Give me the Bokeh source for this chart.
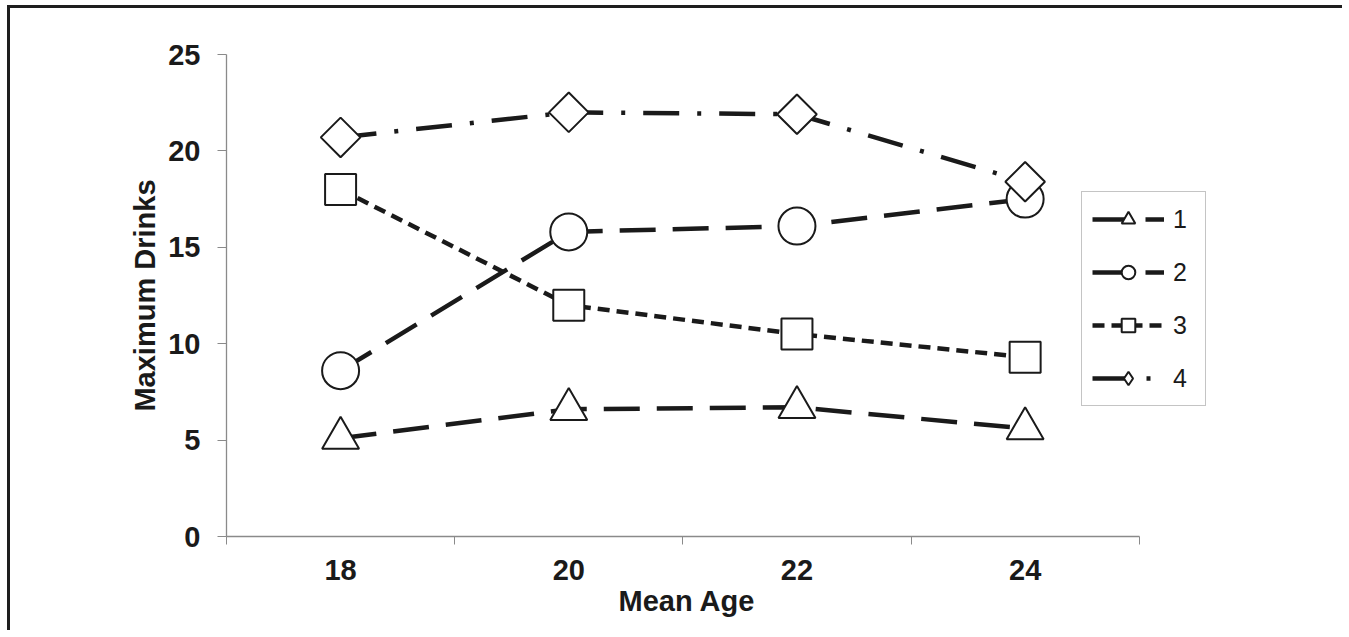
import numpy as np
from bokeh.plotting import figure
from bokeh.models import Range1d, FixedTicker, Legend, LegendItem, Title
from bokeh.embed import file_html
from bokeh.resources import INLINE

# ---- data ----
ages = [18, 20, 22, 24]
series_names = ["1", "2", "3", "4"]
s1 = [5.1, 6.6, 6.7, 5.6]
s2 = [8.6, 15.8, 16.1, 17.5]
s3 = [18.0, 12.0, 10.5, 9.3]
s4 = [20.7, 22.0, 21.9, 18.4]
y_ticks = [0, 5, 10, 15, 20, 25]
x_tick_labels = ["18", "20", "22", "24"]
x_bounds = [17, 19, 21, 23, 25]

FONT = "Liberation Sans"
INK = "#1a1a1a"
GRAY = "#8a8a8a"

p = figure(width=1335, height=625, output_backend="svg", toolbar_location=None,
           x_range=Range1d(17, 25.8), y_range=Range1d(0, 25),
           min_border_left=216, min_border_top=46, min_border_bottom=97,
           min_border_right=115)
p.styles = {"border-top": "3px solid #1e1e1e", "border-left": "3px solid #1e1e1e",
            "margin-top": "5px", "margin-left": "7px"}
p.outline_line_color = None
p.xgrid.grid_line_color = None
p.ygrid.grid_line_color = None

# x axis
xa = p.xaxis[0]
xa.bounds = (17, 25)
xa.ticker = FixedTicker(ticks=ages, minor_ticks=x_bounds)
xa.major_label_overrides = {a: l for a, l in zip(ages, x_tick_labels)}
xa.major_tick_out = 0
xa.major_tick_in = 0
xa.minor_tick_out = 8
xa.minor_tick_in = 0
xa.minor_tick_line_color = GRAY
xa.axis_line_color = GRAY
xa.axis_line_width = 1.3
xa.major_label_text_font = FONT
xa.major_label_text_font_style = "bold"
xa.major_label_text_font_size = "29px"
xa.major_label_text_color = INK
xa.major_label_standoff = 15

xtitle = Title(text="Mean Age", align="left", offset=392, standoff=0,
               text_font=FONT, text_font_style="bold", text_font_size="29px",
               text_color=INK)
p.add_layout(xtitle, "below")

# y axis
ya = p.yaxis[0]
ya.ticker = FixedTicker(ticks=y_ticks, minor_ticks=[])
ya.major_tick_out = 9
ya.major_tick_in = 0
ya.major_tick_line_color = GRAY
ya.minor_tick_line_color = None
ya.axis_line_color = GRAY
ya.axis_line_width = 1.3
ya.major_label_text_font = FONT
ya.major_label_text_font_style = "bold"
ya.major_label_text_font_size = "29px"
ya.major_label_text_color = INK
ya.major_label_standoff = 17
ya.axis_label = "Maximum Drinks"
ya.axis_label_text_font = FONT
ya.axis_label_text_font_style = "bold"
ya.axis_label_text_font_size = "29px"
ya.axis_label_text_color = INK
ya.axis_label_standoff = 4

series = [
    (s1, "36 17", "triangle", 37, 0.0, "triangle"),
    (s2, "36 17", "circle", 37, 0.0, "circle"),
    (s3, "12 7", "square", 31, 0.0, "square"),
    (s4, "36 18 4 18", "square", 28, np.pi / 4, "diamond"),
]

items = []
for name, (vals, dash, marker, size, ang, leg_marker) in zip(series_names, series):
    ln = p.line(ages, vals, line_color=INK, line_width=4.5, line_dash=dash)
    sc = p.scatter(ages, vals, marker=marker, size=size, angle=ang,
                   fill_color="white", line_color=INK, line_width=2)
    if leg_marker != marker:
        lg = p.scatter(ages, vals, marker=leg_marker, size=size,
                       fill_color="white", line_color=INK, line_width=2,
                       visible=False)
        items.append(LegendItem(label=name, renderers=[ln, lg]))
    else:
        items.append(LegendItem(label=name, renderers=[ln, sc]))

legend = Legend(items=items, location=(855, 130),
                label_text_font=FONT, label_text_font_size="25px",
                label_text_color=INK,
                glyph_width=72, glyph_height=34, label_height=34,
                label_width=22,
                label_standoff=9, spacing=19, padding=10, margin=0,
                border_line_color=GRAY, border_line_width=1.3,
                background_fill_color="white", background_fill_alpha=1.0)
p.add_layout(legend, "center")

open("out.html", "w").write(file_html(p, INLINE))
